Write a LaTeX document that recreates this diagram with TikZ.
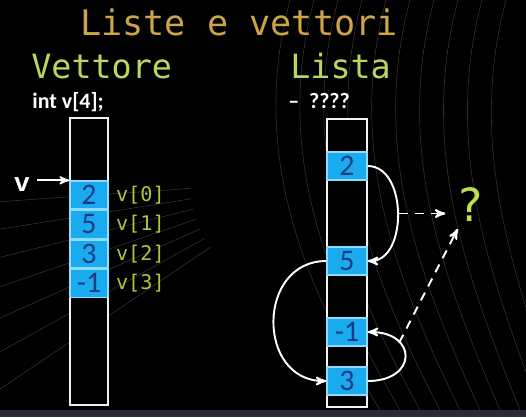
\documentclass[tikz,border=0pt]{standalone}
\usepackage{fontspec}
\usepackage{xcolor}
\usepackage{tikz}
\usetikzlibrary{positioning,%
  arrows,%
  calc
}
\newfontfamily\monofont{DejaVu Sans Mono}
\newfontfamily\ptrfont{Liberation Mono}
\newfontfamily\cellfont{Carlito}
\definecolor{titlegold}{RGB}{205,165,70}
\definecolor{headgreen}{RGB}{185,215,95}
\definecolor{idxgreen}{RGB}{175,195,65}
\definecolor{qmgreen}{RGB}{190,225,70}
\definecolor{cellblue}{RGB}{25,170,240}
\definecolor{cellrim}{RGB}{140,220,250}
\definecolor{celltext}{RGB}{25,60,130}
\definecolor{stripgray}{RGB}{40,44,50}

\begin{document}
\begin{tikzpicture}[x=0.02cm,y=-0.02cm,>=stealth',
    cell/.style={draw=cellrim,line width=0.8pt,fill=cellblue,text=celltext,inner sep=0pt,
      minimum height=0.56cm,font=\cellfont\fontsize{17}{17}\selectfont},
    vcell/.style={cell,minimum width=0.76cm},
    lcell/.style={cell,minimum width=0.8cm},
    column/.style={draw=white!90!gray,line width=1.1pt,fill=black},
    link/.style={draw=white,line width=1.1pt,->},
    maybe/.style={draw=white,line width=1.1pt,dash pattern=on 5pt off 4pt,->},
    swirl/.style={draw=gray!38!black,line width=0.35pt},
    idx/.style={text=idxgreen,font=\monofont\fontsize{11.5}{12}\selectfont,inner sep=0pt},
    head/.style={text=headgreen,font=\monofont\fontsize{19}{20}\selectfont,inner sep=0pt},
    decl/.style={text=white,font=\cellfont\bfseries\fontsize{12.5}{13}\selectfont,inner sep=0pt}]

  % background
  \fill[black] (0,0) rectangle (526,417);
  \fill[stripgray] (0,410) rectangle (526,417);
  \useasboundingbox (0,0) rectangle (526,417);
  \begin{scope}
    \clip (0,0) rectangle (526,410);
    \foreach \a in {146,151,...,176}
      \draw[swirl] (310,180) ++(\a:120) -- ++(\a:420);
    \foreach \i in {0,...,9}
      \draw[swirl] (290+24*\i,0) .. controls (250+24*\i,150) and (300+24*\i,280) .. (380+20*\i,410);
  \end{scope}

  % titles
  \node[text=titlegold,font=\monofont\fontsize{20}{22}\selectfont,inner sep=0pt,anchor=base] (title) at (239,35) {Liste e vettori};
  \node[head,anchor=base west] (vhead) at (31,78) {Vettore};
  \node[head,anchor=base west] (lhead) at (290,78) {Lista};
  \node[decl,anchor=base west] (vdecl) at (32,108) {int v[4];};
  \node[decl,anchor=base west] (ldecl) at (288,108) {–\hspace{0.45em}????};

  % vettore
  \draw[column] (70,118) rectangle (108,405);
  \node[vcell] (v0) at (89,195) {2};
  \node[vcell,below=0pt of v0] (v1) {5};
  \node[vcell,below=0pt of v1] (v2) {3};
  \node[vcell,below=0pt of v2] (v3) {-1};
  \foreach \k in {0,...,3}
    \node[idx,right=0.14cm of v\k] (i\k) {v[\k]};
  \node[text=white,font=\ptrfont\bfseries\fontsize{15}{15}\selectfont,inner sep=1pt] (vp) at (22,185) {v};
  \draw[->,white,line width=1pt,shorten <=3pt] (vp.east |- v0.north) -- (v0.north west);

  % lista
  \draw[column] (327,119) rectangle (367,407);
  \node[lcell] (l2) at (347,166) {2};
  \node[lcell] (l5) at (347,261) {5};
  \node[lcell] (lm1) at (347,332) {-1};
  \node[lcell] (l3) at (347,381) {3};
  \node[text=qmgreen,font=\monofont\fontsize{26}{26}\selectfont,inner sep=2pt] (qm) at (470,205) {?};

  \draw[link] (l2.east) .. controls +(40,0) and +(40,0) .. (l5.east) coordinate[pos=0.5] (m1);
  \draw[link] (l5.west) .. controls +(-70,0) and +(-70,0) .. (l3.west);
  \draw[link] (l3.east) .. controls +(50,0) and +(50,0) .. (lm1.east) coordinate[pos=0.7] (m3);
  \draw[maybe,shorten <=1pt,shorten >=4pt] (m1) -- (m1 -| qm.west);
  \draw[maybe,shorten >=2pt] (m3) -- (qm);
\end{tikzpicture}
\end{document}
